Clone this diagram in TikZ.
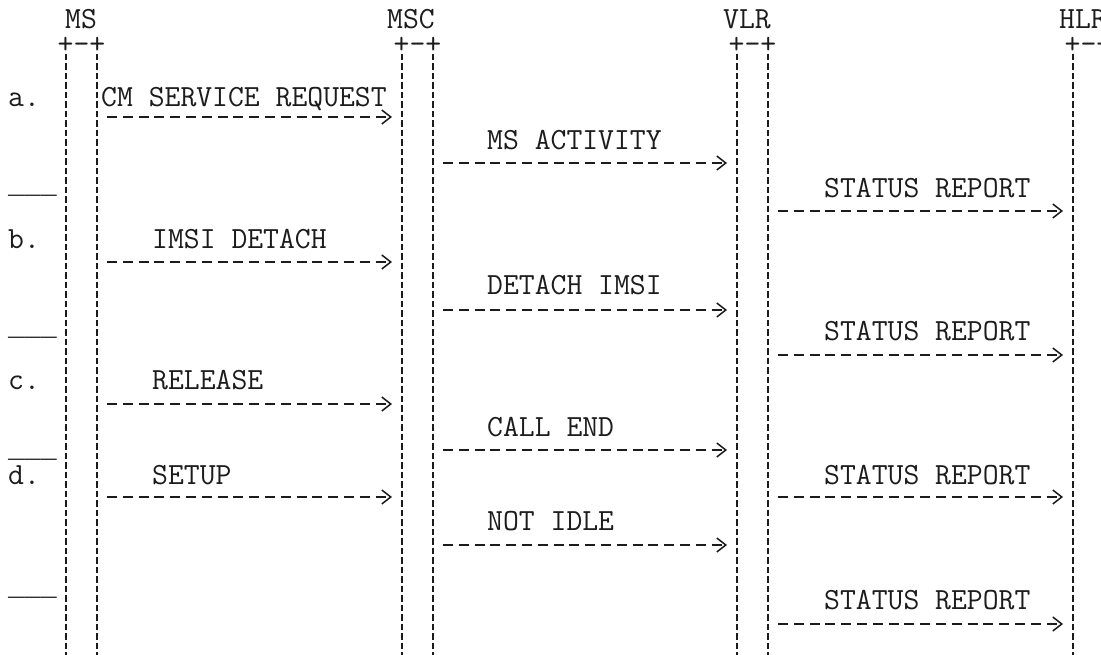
\documentclass[tikz,border=0pt]{standalone}
\usepackage{fontspec}
\newfontfamily\barfont{Liberation Mono}
\usepackage{tikz}
\usetikzlibrary{arrows.meta}
\definecolor{seqink}{HTML}{1C1C1C}

\begin{document}
\begin{tikzpicture}[x=1pt,y=-1pt,
  txt/.style={font=\ttfamily\fontsize{30.8}{32}\selectfont, text=seqink, inner sep=0pt,
    text height=18.8pt, text depth=0pt},
  lbl/.style={txt, anchor=west},
  head/.style={txt, text height=11pt},
  bar/.style={font=\barfont\fontsize{27}{28}\selectfont, text=seqink, inner sep=0pt, anchor=base west},
  life/.style={seqink, line width=1.4pt, dash pattern=on 6.5pt off 3pt},
  msg/.style={seqink, line width=1.5pt, dash pattern=on 10pt off 5.8pt,
    -{Straight Barb[length=9pt,width=14pt]}, shorten <=10pt, shorten >=10pt}]
  \useasboundingbox[fill=white] (0,0) rectangle (1101,655);

  % text rows
  \foreach \r/\y in {0/19, 1/48, 3/97, 4/117, 5/140, 6/163, 7/188, 8/211, 9/239, 10/262,
      11/285, 12/310, 13/331, 14/355, 15/380, 16/404, 17/427, 18/450, 19/475, 20/497,
      21/521, 22/545, 24/600, 25/624}
    \coordinate (r\r) at (0,\y);
  \coordinate (bot) at (0,660);

  % lifeline edges
  \coordinate (msL) at (66,0);   \coordinate (msR) at (97,0);
  \coordinate (mscL) at (402,0); \coordinate (mscR) at (433,0);
  \coordinate (vlrL) at (737,0); \coordinate (vlrR) at (768,0);
  \coordinate (hlrL) at (1073,0);\coordinate (hlrR) at (1104,0);

  % entities
  \node[txt] (ms)  at (81,0 |- r0)   {MS};
  \node[txt] (msc) at (411,0 |- r0)  {MSC};
  \node[txt] (vlr) at (747,0 |- r0)  {VLR};
  \node[txt] (hlr) at (1083,0 |- r0) {HLR};

  \node[head] (msH)  at (81.5,0 |- r1)   {+-+};
  \node[head] (mscH) at (417.5,0 |- r1)  {+-+};
  \node[head] (vlrH) at (752.5,0 |- r1)  {+-+};
  \node[head] (hlrH) at (1088.5,0 |- r1) {+-+};

  \foreach \e/\h in {msL/msH, msR/msH, mscL/mscH, mscR/mscH, vlrL/vlrH, vlrR/vlrH, hlrL/hlrH, hlrR/hlrH}
    \draw[life] (\e |- \h.south) -- (\e |- bot);

  % phase separators
  \node[bar] (sa) at (8,194) {\_\_\_};
  \node[bar] (sb) at (8,335) {\_\_\_};
  \node[bar] (sc) at (8,457) {\_\_\_};
  \node[bar] (sd) at (8,595) {\_\_\_};

  % a.
  \node[lbl] (ca) at (8,0 |- r3) {a.};
  \node[lbl] (m1) at (101,0 |- r3) {CM SERVICE REQUEST};
  \draw[msg] (msR |- r4) -- (mscL |- r4);
  \node[lbl] (m2) at (487,0 |- r5) {MS ACTIVITY};
  \draw[msg] (mscR |- r6) -- (vlrL |- r6);
  \node[lbl] (m3) at (824,0 |- r7) {STATUS REPORT};
  \draw[msg] (vlrR |- r8) -- (hlrL |- r8);

  % b.
  \node[lbl] (cb) at (8,0 |- r9) {b.};
  \node[lbl] (m4) at (152,0 |- r9) {IMSI DETACH};
  \draw[msg] (msR |- r10) -- (mscL |- r10);
  \node[lbl] (m5) at (487,0 |- r11) {DETACH IMSI};
  \draw[msg] (mscR |- r12) -- (vlrL |- r12);
  \node[lbl] (m6) at (824,0 |- r13) {STATUS REPORT};
  \draw[msg] (vlrR |- r14) -- (hlrL |- r14);

  % c.
  \node[lbl] (cc) at (8,0 |- r15) {c.};
  \node[lbl] (m7) at (152,0 |- r15) {RELEASE};
  \draw[msg] (msR |- r16) -- (mscL |- r16);
  \node[lbl] (m8) at (487,0 |- r17) {CALL END};
  \draw[msg] (mscR |- r18) -- (vlrL |- r18);
  \node[lbl] (m9) at (824,0 |- r19) {STATUS REPORT};
  \draw[msg] (vlrR |- r20) -- (hlrL |- r20);

  % d.
  \node[lbl] (cd) at (8,0 |- r19) {d.};
  \node[lbl] (m10) at (152,0 |- r19) {SETUP};
  \draw[msg] (msR |- r20) -- (mscL |- r20);
  \node[lbl] (m11) at (487,0 |- r21) {NOT IDLE};
  \draw[msg] (mscR |- r22) -- (vlrL |- r22);
  \node[lbl] (m12) at (824,0 |- r24) {STATUS REPORT};
  \draw[msg] (vlrR |- r25) -- (hlrL |- r25);
\end{tikzpicture}
\end{document}
